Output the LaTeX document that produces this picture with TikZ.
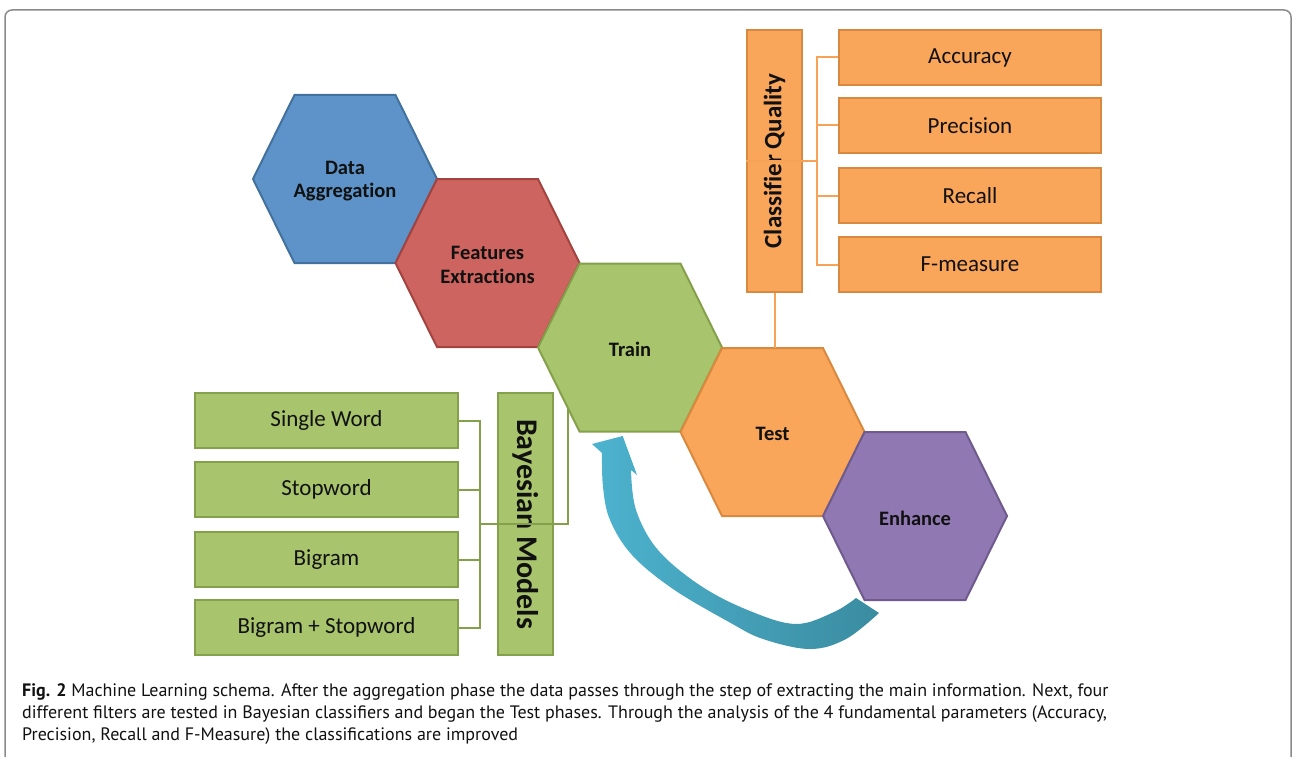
\documentclass[tikz,border=0pt]{standalone}
\usepackage{fontspec}
\setmainfont{Carlito}[Ligatures={NoCommon}]
\newfontfamily\capfont{PT Sans}
\newfontfamily\plainbold{Carlito}[Ligatures={NoCommon}, Kerning=Off]
\usetikzlibrary{calc}

% palette
\definecolor{blueF}{HTML}{5D93C8}\definecolor{blueD}{HTML}{41719C}
\definecolor{redF}{HTML}{CD645F}\definecolor{redD}{HTML}{A34340}
\definecolor{greenF}{HTML}{A8C46C}\definecolor{greenD}{HTML}{84A04A}
\definecolor{orangeF}{HTML}{F9A55A}\definecolor{orangeD}{HTML}{D9893F}
\definecolor{purpleF}{HTML}{9078B2}\definecolor{purpleD}{HTML}{6F5A8E}
\definecolor{arrowA}{HTML}{4DB3CF}\definecolor{arrowB}{HTML}{3A8CA0}
\definecolor{frameC}{HTML}{8A8A8A}
\definecolor{txt}{HTML}{111111}

\tikzset{
  hexshape/.style={line width=2pt, line join=miter},
  hexlabel/.style={font=\bfseries\fontsize{20.5}{23.5}\selectfont, text=txt, align=center, inner sep=0pt},
  gbox/.style={draw=greenD, fill=greenF, line width=2pt, minimum width=263, minimum height=55,
    inner sep=0pt, font=\fontsize{23}{26}\selectfont, text=txt},
  obox/.style={draw=orangeD, fill=orangeF, line width=2pt, minimum width=262, minimum height=55,
    inner sep=0pt, font=\fontsize{23}{26}\selectfont, text=txt},
  gtall/.style={draw=greenD, fill=greenF, line width=2pt, minimum width=262, minimum height=55,
    inner sep=0pt, font=\bfseries\fontsize{30}{33}\selectfont, text=txt},
  otall/.style={draw=orangeD, fill=orangeF, line width=2pt, minimum width=262, minimum height=55,
    inner sep=0pt, font=\plainbold\bfseries\fontsize{25}{28}\selectfont, text=txt},
  glink/.style={draw=greenD, line width=2pt},
  olink/.style={draw=orangeF!90!orangeD, line width=2pt},
}

% flat-topped hexagon with a label node at its centre
\newcommand\hexcell[4]{%
  \begin{scope}[shift={(#2)}]
    \draw[hexshape,#3] (-92,0) -- (-50.5,-84) -- (50.5,-84) -- (92,0) -- (50.5,84) -- (-50.5,84) -- cycle;
    \node[hexlabel] (#1) at (0,2) {#4};
    \coordinate (#1-top) at (0,-84);
    \coordinate (#1-w) at (-92,0);
    \coordinate (#1-sw) at (-50.5,84);
  \end{scope}}

\begin{document}
\begin{tikzpicture}[x=1pt,y=-1pt]
\useasboundingbox (0,0) rectangle (1292,757);
\clip (0,0) rectangle (1292,757);

% figure frame
\draw[frameC, line width=1.5pt, rounded corners=7pt] (5,10) rectangle (1291,800);

% process hexagons
\hexcell{agg}{345,179}{draw=blueD, fill=blueF}{Data\\Aggregation}
\hexcell{feat}{487.5,263}{draw=redD, fill=redF}{Features\\Extractions}
\hexcell{train}{630,347.5}{draw=greenD, fill=greenF}{Train}
\hexcell{test}{772.5,432}{draw=orangeD, fill=orangeF}{Test}
\hexcell{enh}{915,516}{draw=purpleD, fill=purpleF}{Enhance}

% classifier quality block
\node[otall, rotate=90] (cq) at (774.5,161) {Classifier Quality};
\node[obox] (acc) at (970,57.5) {Accuracy};
\node[obox] (prec) at (970,125.5) {Precision};
\node[obox] (rec) at (970,195.5) {Recall};
\node[obox] (fm) at (970,264.5) {F-measure};
\coordinate (cqj) at (817,161);
\draw[olink] (cq.north) -- (cqj);
\draw[olink] (acc.west) -- (acc.west -| cqj) -- (fm.west -| cqj) -- (fm.west);
\draw[olink] (prec.west) -- (prec.west -| cqj);
\draw[olink] (rec.west) -- (rec.west -| cqj);
\draw[olink] (cq.west) -- (cq.west |- test-top);

% bayesian models block
\node[gbox] (sw) at (326.5,420.5) {Single Word};
\node[gbox] (stop) at (326.5,489.5) {Stopword};
\node[gbox] (bi) at (326.5,559.5) {Bigram};
\node[gbox] (bis) at (326.5,627.5) {Bigram + Stopword};
\node[gtall, rotate=-90] (bm) at (525.5,524) {Bayesian Models};
\coordinate (bmj) at (480,524);
\draw[glink] (sw.east) -- (sw.east -| bmj) -- (bis.east -| bmj) -- (bis.east);
\draw[glink] (stop.east) -- (stop.east -| bmj);
\draw[glink] (bi.east) -- (bi.east -| bmj);
\draw[glink] (bmj) -- (bm.north);
\coordinate (trainhit) at ($(train-w)!0.72!(train-sw)$);
\draw[glink] (bm.south) -| (trainhit);

% feedback arrow from Enhance back to Train
\shade[left color=arrowA, right color=arrowB]
  (622.7,436) -- (637,475)
  -- plot[smooth, tension=0.6] coordinates {(631,470) (636,510) (658,550) (701,586) (750,611) (796,624) (834,612) (856,598)}
  -- plot[smooth, tension=0.6] coordinates {(879,613) (846,639) (810,649) (763,639) (729,622) (673,589) (632,555) (610,520) (603,487) (602,453)}
  -- (592,444) -- cycle;

% caption
\node[anchor=north west, inner sep=0pt, align=left, text=txt,
      font=\capfont\fontsize{18}{22}\selectfont] (cap) at (22,683)
  {\textbf{Fig. 2} Machine Learning schema. After the aggregation phase the data passes through the step of extracting the main information. Next, four\\
   different filters are tested in Bayesian classifiers and began the Test phases. Through the analysis of the 4 fundamental parameters (Accuracy,\\
   Precision, Recall and F-Measure) the classifications are improved};
\end{tikzpicture}
\end{document}
